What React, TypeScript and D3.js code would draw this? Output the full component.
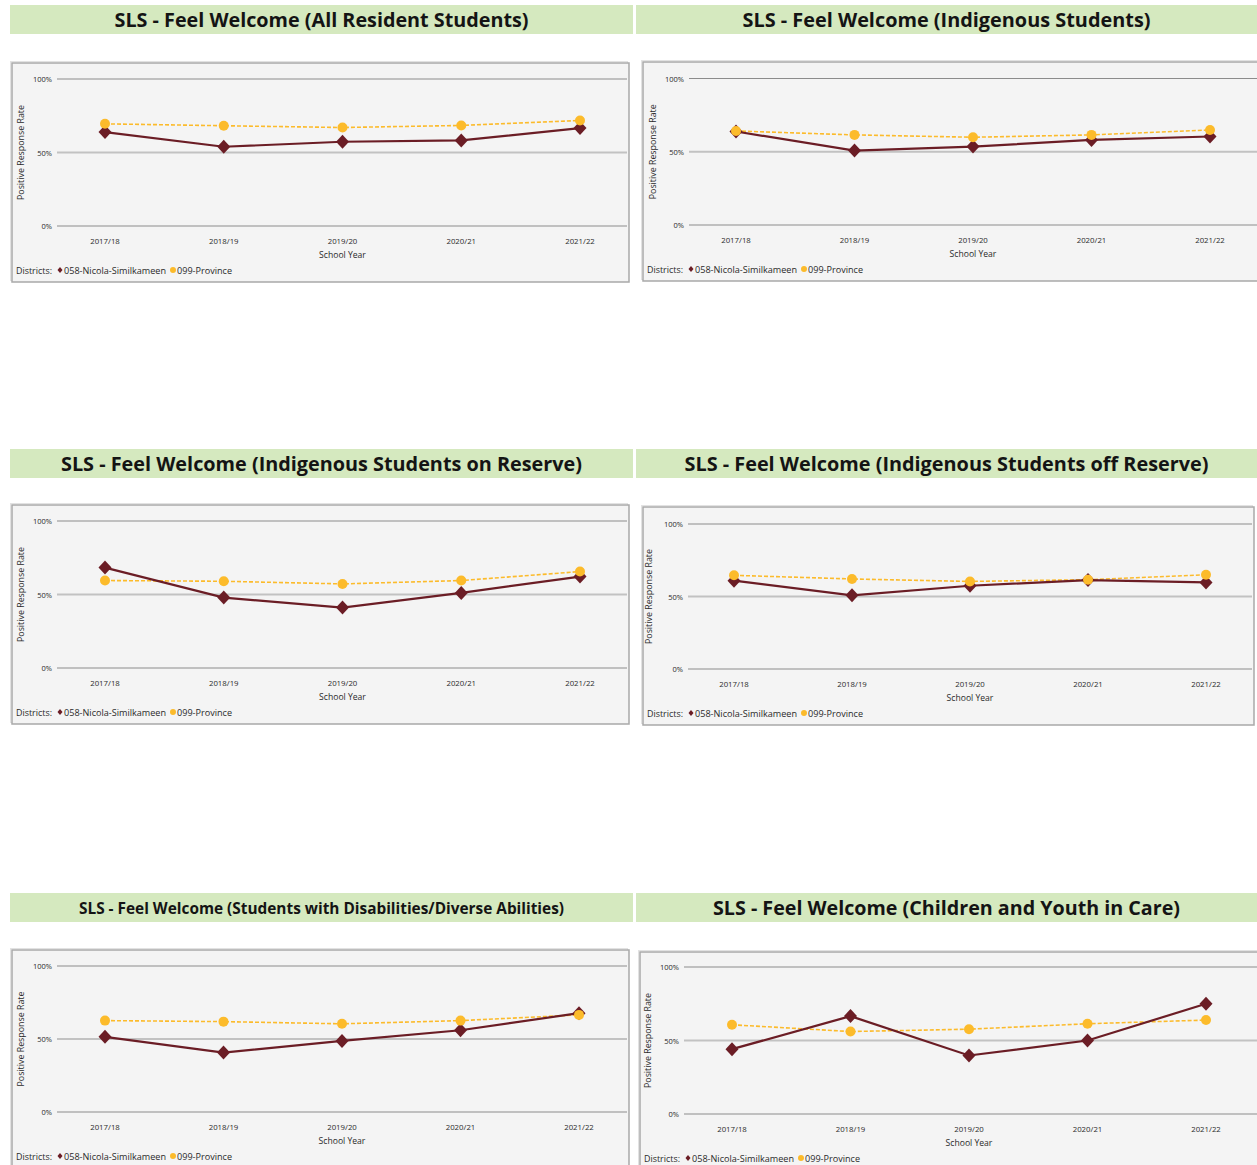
import React from "react";
import * as d3 from "d3";

// school years on the x axis
const YEARS = ["2017/18", "2018/19", "2019/20", "2020/21", "2021/22"];
const Y_TICKS = [0, 50, 100];

const TITLES = [
  "SLS - Feel Welcome (All Resident Students)",
  "SLS - Feel Welcome (Indigenous Students)",
  "SLS - Feel Welcome (Indigenous Students on Reserve)",
  "SLS - Feel Welcome (Indigenous Students off Reserve)",
  "SLS - Feel Welcome (Students with Disabilities/Diverse Abilities)",
  "SLS - Feel Welcome (Children and Youth in Care)",
];

// positive response rate, %
const allNicola = [63.9, 53.9, 57.3, 58.2, 66.6];
const allProvince = [69.5, 68.2, 67.0, 68.4, 71.8];
const indigNicola = [63.8, 50.8, 53.5, 58.1, 60.4];
const indigProvince = [64.2, 61.5, 59.9, 61.5, 64.9];
const onResNicola = [68.3, 47.9, 41.1, 51.1, 62.2];
const onResProvince = [59.5, 59.0, 57.2, 59.5, 65.6];
const offResNicola = [60.9, 50.8, 57.4, 61.3, 59.7];
const offResProvince = [64.6, 62.1, 60.4, 61.6, 65.0];
const disNicola = [51.5, 40.7, 48.7, 56.0, 67.7];
const disProvince = [62.6, 61.9, 60.4, 62.6, 66.5];
const careNicola = [44.1, 66.6, 39.8, 50.0, 75.0];
const careProvince = [60.7, 56.1, 57.7, 61.4, 63.9];

const NICOLA = "#6b1d25";
const PROVINCE = "#fcbb2b";
const FONT = "'Open Sans', 'Noto Sans', sans-serif";
const TXT = "#2a2a2a";

// layout of each panel
const panels = [
  { title: TITLES[0], nicola: allNicola, province: allProvince, hx: 10, hy: 5, hw: 623, tw: 414, ts: 20,
    bx: 12, by: 63, bw: 617, x0: 105, x1: 580, gl: 57, gr: 627, y100: 79, y0: 226, ax: 20 },
  { title: TITLES[1], nicola: indigNicola, province: indigProvince, hx: 636, hy: 5, hw: 621, tw: 408, ts: 20,
    bx: 643, by: 62, bw: 616, x0: 736, x1: 1210, gl: 689, gr: 1257, y100: 78.5, y0: 225, ax: 652 },
  { title: TITLES[2], nicola: onResNicola, province: onResProvince, hx: 10, hy: 449, hw: 623, tw: 521, ts: 20,
    bx: 12, by: 505, bw: 617, x0: 105, x1: 580, gl: 57, gr: 627, y100: 521, y0: 668, ax: 20 },
  { title: TITLES[3], nicola: offResNicola, province: offResProvince, hx: 636, hy: 449, hw: 621, tw: 524, ts: 20,
    bx: 643, by: 507, bw: 611, x0: 734, x1: 1206, gl: 688, gr: 1252, y100: 524, y0: 669, ax: 648 },
  { title: TITLES[4], nicola: disNicola, province: disProvince, hx: 10, hy: 893, hw: 623, tw: 485, ts: 16,
    bx: 12, by: 950, bw: 617, x0: 105, x1: 579, gl: 57, gr: 627, y100: 966, y0: 1112, ax: 20 },
  { title: TITLES[5], nicola: careNicola, province: careProvince, hx: 636, hy: 893, hw: 621, tw: 467, ts: 20,
    bx: 640, by: 952, bw: 619, x0: 732, x1: 1206, gl: 684, gr: 1257, y100: 967, y0: 1114, ax: 647 },
];

const diamond = (cx: number, cy: number, w = 6.5, h = 7) =>
  `M${cx},${cy - h}L${cx + w},${cy}L${cx},${cy + h}L${cx - w},${cy}Z`;

const Panel = ({ p }: { p: any }) => {
  const x = d3.scalePoint<string>().domain(YEARS).range([p.x0, p.x1]);
  const y = d3.scaleLinear().domain([0, 100]).range([p.y0, p.y100]);
  const line = d3
    .line<number>()
    .x((_, i) => x(YEARS[i]) as number)
    .y((d) => y(d));
  const boxH = p.y0 + 56 - p.by;
  const lx = p.bx + 4;
  const ly = p.y0 + 44;

  return (
    <g>
      <rect x={p.hx} y={p.hy} width={p.hw} height={29} fill="#d5e9bf" />
      <text
        x={p.hx + p.hw / 2}
        y={p.hy + 14.5}
        textAnchor="middle"
        dominantBaseline="central"
        fontFamily={FONT}
        fontWeight={700}
        fontSize={p.ts}
        fill="#141414"
        textLength={p.tw}
        lengthAdjust="spacingAndGlyphs"
      >
        {p.title}
      </text>

      {/* chart frame */}
      <rect x={p.bx - 1.5} y={p.by - 1.5} width={p.bw} height={boxH} fill="none" stroke="#e2e2e2" strokeWidth={1} />
      <rect x={p.bx} y={p.by} width={p.bw} height={boxH} fill="#f4f4f4" stroke="#a9a9a9" strokeWidth={1.5} />

      {Y_TICKS.map((t) => (
        <g key={t}>
          <line
            x1={p.gl}
            x2={p.gr}
            y1={y(t)}
            y2={y(t)}
            stroke={t === 50 ? "#c2c2c2" : "#8c8c8c"}
            strokeWidth={t === 50 ? 2 : 1}
          />
          <text x={p.gl - 5} y={y(t)} textAnchor="end" dominantBaseline="central" fontFamily={FONT} fontSize={7.5} fill={TXT}>
            {t}%
          </text>
        </g>
      ))}

      <text
        transform={`translate(${p.ax},${(p.y0 + p.y100) / 2}) rotate(-90)`}
        textAnchor="middle"
        dominantBaseline="central"
        fontFamily={FONT}
        fontSize={8.5}
        fill={TXT}
        textLength={95}
        lengthAdjust="spacingAndGlyphs"
      >
        Positive Response Rate
      </text>

      {YEARS.map((yr) => (
        <text key={yr} x={x(yr)} y={p.y0 + 15} textAnchor="middle" dominantBaseline="central" fontFamily={FONT} fontSize={7.8} fill={TXT}>
          {yr}
        </text>
      ))}
      <text x={(p.x0 + p.x1) / 2} y={p.y0 + 29} textAnchor="middle" dominantBaseline="central" fontFamily={FONT} fontSize={8.6} fill={TXT}>
        School Year
      </text>

      {/* series */}
      <path d={line(p.province) || ""} fill="none" stroke={PROVINCE} strokeWidth={1.6} strokeDasharray="4,2" />
      <path d={line(p.nicola) || ""} fill="none" stroke={NICOLA} strokeWidth={2.2} />
      {p.nicola.map((v: number, i: number) => (
        <path key={"n" + i} d={diamond(x(YEARS[i]) as number, y(v))} fill={NICOLA} />
      ))}
      {p.province.map((v: number, i: number) => (
        <circle key={"p" + i} cx={x(YEARS[i])} cy={y(v)} r={5} fill={PROVINCE} />
      ))}

      {/* legend */}
      <g fontFamily={FONT} fontSize={8.5} fill={TXT}>
        <text x={lx} y={ly} dominantBaseline="central" textLength={36} lengthAdjust="spacingAndGlyphs">Districts:</text>
        <path d={diamond(lx + 44, ly, 2.5, 3)} fill={NICOLA} />
        <text x={lx + 48} y={ly} dominantBaseline="central" textLength={102} lengthAdjust="spacingAndGlyphs">
          058-Nicola-Similkameen
        </text>
        <circle cx={lx + 157} cy={ly} r={3} fill={PROVINCE} />
        <text x={lx + 161} y={ly} dominantBaseline="central" textLength={55} lengthAdjust="spacingAndGlyphs">
          099-Province
        </text>
      </g>
    </g>
  );
};

export default function App() {
  return (
    <svg
      width={1257}
      height={1165}
      style={{ position: "absolute", left: 0, top: 0, background: "#fff" }}
    >
      {panels.map((p, i) => (
        <Panel key={i} p={p} />
      ))}
    </svg>
  );
}
